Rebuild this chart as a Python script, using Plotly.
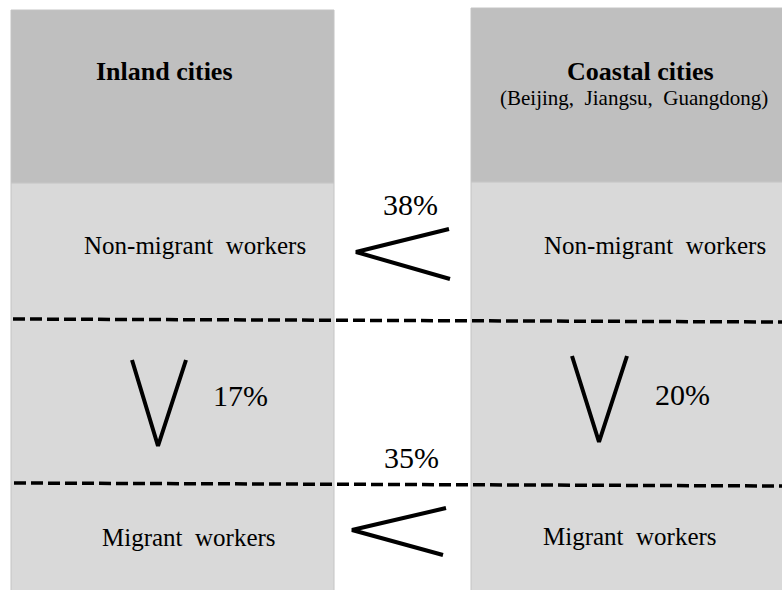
import plotly.graph_objects as go

# ---- data ----
regions = ["Inland cities", "Coastal cities"]
region_notes = ["", "(Beijing, Jiangsu, Guangdong)"]
worker_groups = ["Non-migrant  workers", "Migrant  workers"]
gap_between_regions = [38, 35]   # non-migrant, migrant (coastal vs inland)
gap_within_region = [17, 20]     # inland, coastal (non-migrant vs migrant)

W, H = 782, 590
SERIF = "Liberation Serif"
HEAD = "#BFBFBF"
BODY = "#D9D9D9"
EDGE = "#C4C4C4"

fig = go.Figure()

# box geometry (layout)
boxes = [dict(x0=11, x1=334, top=10, split=183), dict(x0=471, x1=795, top=8, split=182)]
shapes = []
for b in boxes:
    shapes.append(dict(type="rect", x0=b["x0"], x1=b["x1"], y0=b["top"], y1=b["split"],
                       fillcolor=HEAD, line=dict(color=EDGE, width=1), layer="below"))
    shapes.append(dict(type="rect", x0=b["x0"], x1=b["x1"], y0=b["split"], y1=H + 5,
                       fillcolor=BODY, line=dict(color=EDGE, width=1), layer="below"))

# dashed separators
for y0, y1, xs in [(319, 322, 13), (483, 486, 14)]:
    shapes.append(dict(type="line", x0=xs, x1=W + 2, y0=y0, y1=y1,
                       line=dict(color="black", width=3.5, dash="12px,5px")))

annotations = []
# headers
head_x = [164, 640]
for i, r in enumerate(regions):
    annotations.append(dict(x=head_x[i], y=71, text="<b>%s</b>" % r,
                            showarrow=False, font=dict(family=SERIF, size=26, color="black")))
    if region_notes[i]:
        annotations.append(dict(x=634, y=98, text=region_notes[i].replace(", ", ",  "),
                                showarrow=False, font=dict(family=SERIF, size=21, color="black")))

# worker labels
lab_pos = [[(195, 245), (655, 245)], [(189, 537), (630, 536)]]
for g, grp in enumerate(worker_groups):
    for r in range(2):
        x, y = lab_pos[g][r]
        annotations.append(dict(x=x, y=y, text=grp, showarrow=False,
                                font=dict(family=SERIF, size=25, color="black")))

# "<" between regions
lt_shapes = [((449, 229), (356, 252), (450, 279)), ((446, 508), (352, 530), (443, 555))]
lt_labels = [(410, 204), (411, 457)]
for k, pct in enumerate(gap_between_regions):
    pts = lt_shapes[k]
    fig.add_trace(go.Scatter(x=[p[0] for p in pts], y=[p[1] for p in pts], mode="lines",
                             line=dict(color="black", width=4), hoverinfo="skip", showlegend=False))
    annotations.append(dict(x=lt_labels[k][0], y=lt_labels[k][1], text="%d%%" % pct, showarrow=False,
                            font=dict(family=SERIF, size=30, color="black")))

# "V" within regions
v_shapes = [((132, 360), (158, 446), (186, 360)), ((572, 356), (599, 442), (627, 356))]
v_labels = [(240, 395), (682, 394)]
for k, pct in enumerate(gap_within_region):
    pts = v_shapes[k]
    fig.add_trace(go.Scatter(x=[p[0] for p in pts], y=[p[1] for p in pts], mode="lines",
                             line=dict(color="black", width=4), hoverinfo="skip", showlegend=False))
    annotations.append(dict(x=v_labels[k][0], y=v_labels[k][1], text="%d%%" % pct, showarrow=False,
                            font=dict(family=SERIF, size=30, color="black")))

fig.update_layout(
    width=W, height=H, margin=dict(l=0, r=0, t=0, b=0),
    paper_bgcolor="white", plot_bgcolor="white",
    xaxis=dict(range=[0, W], visible=False, fixedrange=True),
    yaxis=dict(range=[H, 0], visible=False, fixedrange=True),
    shapes=shapes, annotations=annotations, showlegend=False,
)

fig.write_html("out.html", config={"displayModeBar": False},
               post_script="document.body.style.margin='0';document.body.style.overflow='hidden';")
